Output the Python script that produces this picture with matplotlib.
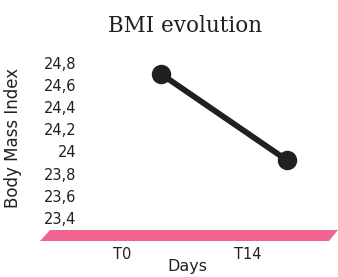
import matplotlib
matplotlib.use("Agg")
import matplotlib.pyplot as plt
from matplotlib.patches import Polygon
from matplotlib.transforms import ScaledTranslation

days = ["T0", "T14"]
bmi = [24.7, 23.92]
yticks = [23.4, 23.6, 23.8, 24.0, 24.2, 24.4, 24.6, 24.8]
ytick_labels = ["23,4", "23,6", "23,8", "24", "24,2", "24,4", "24,6", "24,8"]

W, H = 338, 277
fig = plt.figure(figsize=(W / 100, H / 100), dpi=100)
ax = fig.add_axes([85 / W, 1 - 230 / H, 245 / W, 180 / H])

# depth offset of the series (pseudo-3D look)
shift = ScaledTranslation(0.39, 0.0, fig.dpi_scale_trans)
xs = list(range(len(days)))
ax.plot(xs, bmi, color="#231f20", lw=4.2, marker="o", ms=13,
        transform=ax.transData + shift, clip_on=False, solid_capstyle="round")

ax.set_xlim(-0.294, 1.65)
ax.set_ylim(23.29, 24.917)
ax.set_xticks(xs)
ax.set_xticklabels(days, fontsize=10.5, color="#231f20")
ax.set_yticks(yticks)
ax.set_yticklabels(ytick_labels, fontsize=10.5, color="#231f20")
ax.tick_params(length=0, pad=6)
ax.tick_params(axis="x", pad=12)
for s in ax.spines.values():
    s.set_visible(False)

# pink floor
floor = [(50, 230), (338, 230), (329, 241), (40, 241)]
fig.patches.append(Polygon([(x / W, 1 - y / H) for x, y in floor], closed=True,
                           transform=fig.transFigure, color="#ef6590", lw=0))

fig.text(185 / W, 1 - 26 / H, "BMI evolution", ha="center", va="center",
         fontsize=15.5, family="DejaVu Serif", color="#231f20")
fig.text(13 / W, 1 - 138 / H, "Body Mass Index", ha="center", va="center",
         rotation=90, fontsize=12, color="#231f20")
fig.text(187 / W, 1 - 267 / H, "Days", ha="center", va="center",
         fontsize=11.5, color="#231f20")

fig.savefig("out.png", dpi=100)
